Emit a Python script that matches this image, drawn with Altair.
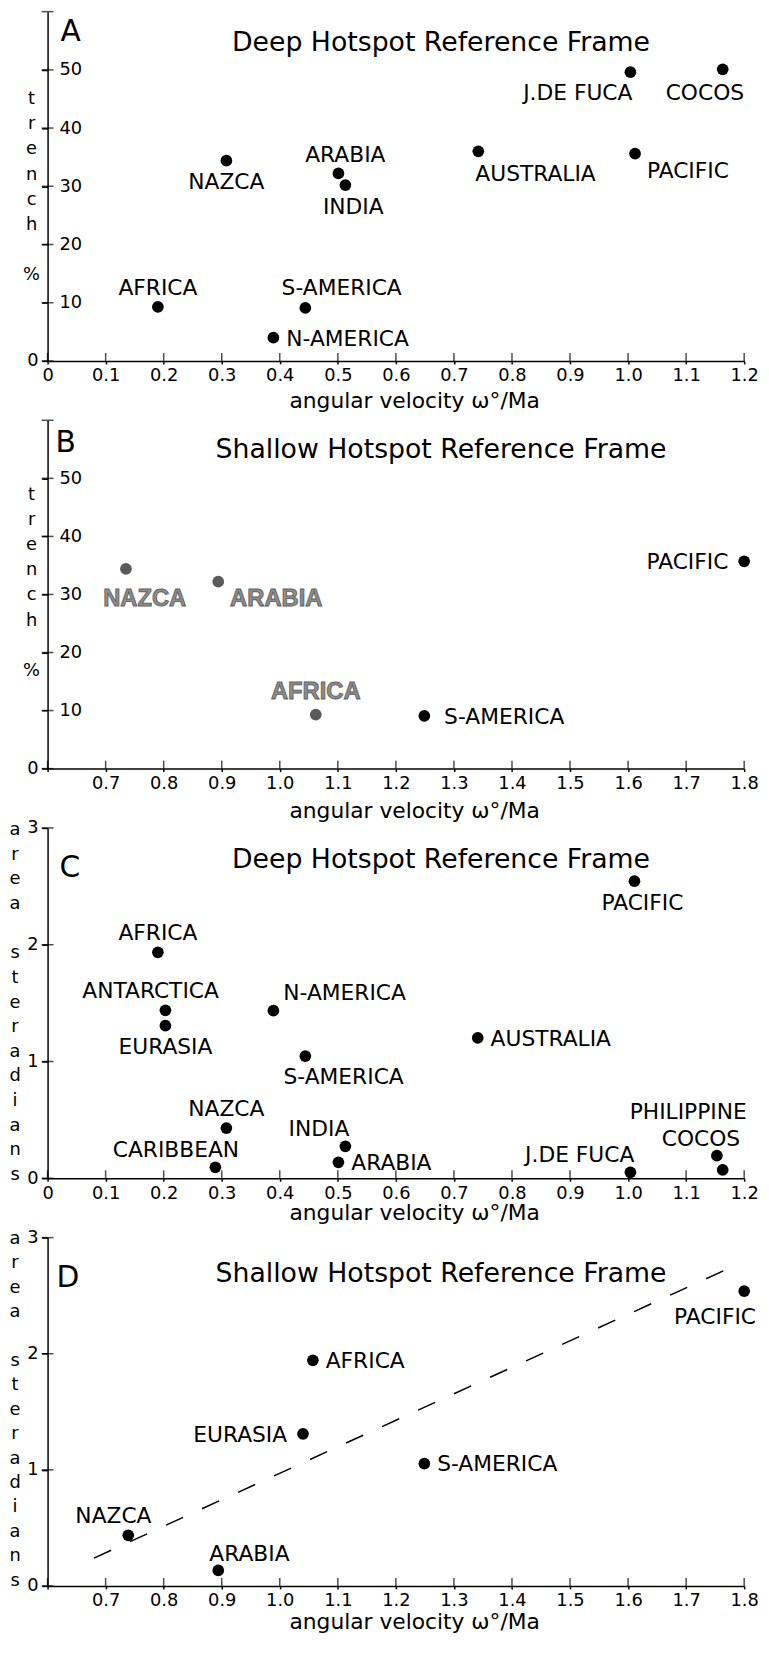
import altair as alt
import pandas as pd

FONT = "DejaVu Sans"
INK = "#000000"
BLANK = "\u200b"

# ---------------- data ----------------
# A: deep hotspot reference frame, trench %
a_plates = ["AFRICA", "NAZCA", "ARABIA", "INDIA", "S-AMERICA", "N-AMERICA",
            "AUSTRALIA", "J.DE FUCA", "COCOS", "PACIFIC"]
a_omega = [0.19, 0.308, 0.501, 0.513, 0.444, 0.389, 0.742, 1.004, 1.163, 1.012]
a_trench = [9.3, 34.4, 32.2, 30.2, 9.1, 4.0, 36.0, 49.6, 50.1, 35.6]
a_place = ["N", "S", "N>", "S>", "NE", "E", "SE0", "SW", "S<", "ESE"]

# B: shallow hotspot reference frame, trench %
b_plates = ["NAZCA", "ARABIA", "AFRICA", "S-AMERICA", "PACIFIC"]
b_omega = [0.735, 0.894, 1.062, 1.249, 1.80]
b_trench = [34.4, 32.2, 9.3, 9.1, 35.7]
b_place = ["SEg", "ESE", "Ng", "E+", "W"]
b_gray_plates = ["NAZCA", "ARABIA", "AFRICA"]

# C: deep hotspot reference frame, area (steradians)
c_plates = ["AFRICA", "ANTARCTICA", "EURASIA", "N-AMERICA", "S-AMERICA", "NAZCA",
            "CARIBBEAN", "INDIA", "ARABIA", "PACIFIC", "AUSTRALIA", "J.DE FUCA",
            "PHILIPPINE", "COCOS"]
c_omega = [0.19, 0.203, 0.203, 0.389, 0.444, 0.308, 0.289, 0.513, 0.501, 1.011,
           0.741, 1.004, 1.153, 1.163]
c_area = [1.935, 1.438, 1.307, 1.435, 1.046, 0.43, 0.094, 0.273, 0.136, 2.544,
          1.202, 0.051, 0.193, 0.071]
c_place = ["N", "N<", "S", "NE+", "SE", "N", "NW+", "NW", "E", "S>", "E", "NW",
           "N2", "N1"]

# D: shallow hotspot reference frame, area (steradians)
d_plates = ["AFRICA", "EURASIA", "NAZCA", "ARABIA", "S-AMERICA", "PACIFIC"]
d_omega = [1.057, 1.040, 0.739, 0.894, 1.249, 1.80]
d_area = [1.943, 1.31, 0.436, 0.133, 1.054, 2.54]
d_place = ["E", "W", "N<", "NE0", "E", "SW+"]

# dashed fit line in D (end points)
d_fit_omega = [0.68, 1.78]
d_fit_area = [0.24, 2.75]

# axis ticks
x_ticks_deep = [0.0, 0.1, 0.2, 0.3, 0.4, 0.5, 0.6, 0.7, 0.8, 0.9, 1.0, 1.1, 1.2]
x_ticks_shallow = [0.6, 0.7, 0.8, 0.9, 1.0, 1.1, 1.2, 1.3, 1.4, 1.5, 1.6, 1.7, 1.8]
y_ticks_trench = [0, 10, 20, 30, 40, 50, 60]
y_labels_trench = [0, 10, 20, 30, 40, 50]
y_ticks_area = [0, 1, 2, 3]

X_TITLE = "angular velocity ω°/Ma"
TRENCH_TITLE = ["t", "r", "e", "n", "c", "h", BLANK, "%"]
AREA_TITLE = ["a", "r", "e", "a", BLANK, "s", "t", "e", "r", "a", "d", "i", "a", "n", "s"]

PLOT_W = 704

# label placement vocabulary: align, dx, dy (alphabetic baseline)
PLACE = {
    "N": ("center", 0, -12), "N>": ("center", 7, -12), "N<": ("center", -15, -12),
    "S": ("center", 0, 29), "S>": ("center", 8, 29), "S<": ("center", -18, 31),
    "E": ("left", 13, 8), "E+": ("left", 20, 8), "W": ("right", -16, 8),
    "NE": ("left", -24, -13), "NE0": ("left", -9, -10), "NE+": ("left", 10, -11),
    "SE": ("left", -22, 28), "SE0": ("left", -3, 30),
    "NW": ("right", 4, -10), "NW+": ("right", 24, -10),
    "SW": ("right", 2, 28), "SW+": ("right", 12, 33),
    "ESE": ("left", 12, 25),
    "N1": ("center", -22, -24), "N2": ("center", -29, -37),
    "SEg": ("left", -23, 37), "Ng": ("center", 0, -16),
}


def sc(dom):
    return alt.Scale(domain=dom, nice=False, zero=False)


def x_axis(ticks):
    if ticks[0] == 0:
        expr = "datum.value == 0 ? '0' : format(datum.value, '.1f')"
    else:
        expr = "datum.value < %s ? '' : format(datum.value, '.1f')" % (ticks[0] + 0.05)
    return alt.Axis(
        values=ticks, labelExpr=expr, labelFont=FONT, labelFontSize=18,
        labelColor=INK, labelPadding=3, labelFlush=False, labelOverlap=False,
        tickSize=3, tickWidth=1.5, tickColor=INK, domainColor=INK, domainWidth=1.5,
        grid=False, title=None,
    )


def y_axis(kind, labels, title_y, lh):
    common = dict(
        values=labels, labelFont=FONT, labelFontSize=18, labelColor=INK,
        labelFlush=False, labelOverlap=False, labelBaseline="middle",
        tickSize=6, tickWidth=1.5, tickColor=INK, domainColor=INK, domainWidth=1.5,
        grid=False, titleAngle=0, titleFont=FONT, titleFontSize=18,
        titleFontWeight="normal", titleColor=INK, titleAlign="center",
        titleBaseline="alphabetic", titleY=title_y, titleLineHeight=lh,
    )
    if kind == "trench":
        # labels sit inside the frame, to the right of the axis line
        return alt.Axis(
            labelExpr="datum.value == 0 ? '' : datum.label",
            labelAlign="left", labelPadding=-17.5,
            title=TRENCH_TITLE, titleX=-16.7, **common)
    return alt.Axis(labelPadding=3.5, title=AREA_TITLE, titleX=-33.4, **common)


def panel(plates, omega, vals, place, xdom, xticks, ydom, yticks, ylabels, kind,
          ytitle_y, ylh, xtitle_y, letter, letter_x, letter_y, title, title_y,
          height, gray=None, fit=None):
    gray = gray or []
    df = pd.DataFrame({"plate": plates, "omega": omega, "val": vals, "place": place})
    df["faded"] = df["plate"].isin(gray)

    xax = x_axis(xticks)
    yax = y_axis(kind, ylabels, ytitle_y, ylh)

    def X():
        return alt.X("omega:Q", scale=sc(xdom), axis=xax)

    def Y():
        return alt.Y("val:Q", scale=sc(ydom), axis=yax)

    layers = []
    pts = alt.Chart(df).mark_circle(size=140, opacity=1).encode(
        x=X(), y=Y(),
        color=alt.condition("datum.faded", alt.value("#5a5a5a"), alt.value(INK)),
    )
    layers.append(pts)

    # crossing ticks on both axes
    xt = pd.DataFrame({"omega": xticks, "val": [ydom[0]] * len(xticks)})
    layers.append(alt.Chart(xt).mark_tick(orient="vertical", size=8, thickness=1.5,
                                          yOffset=-4, color=INK).encode(x=X(), y=Y()))
    yt = pd.DataFrame({"omega": [xdom[0]] * len(yticks), "val": yticks})
    layers.append(alt.Chart(yt).mark_tick(orient="horizontal", size=12, thickness=1.5,
                                          color=INK).encode(x=X(), y=Y()))

    if kind == "trench":
        # the zero label of the y axis stays outside, left of the axis line
        zt = pd.DataFrame({"omega": [xdom[0]], "val": [yticks[0]],
                           "lbl": [str(yticks[0])]})
        layers.append(alt.Chart(zt).mark_text(
            align="right", baseline="middle", dx=-9, font=FONT, fontSize=18, color=INK
        ).encode(x=X(), y=Y(), text="lbl:N"))

    if fit is not None:
        fdf = pd.DataFrame({"omega": fit[0], "val": fit[1]})
        layers.append(alt.Chart(fdf).mark_line(color=INK, strokeWidth=1.5,
                                               strokeDash=[19, 21]).encode(x=X(), y=Y()))

    for code in dict.fromkeys(place):
        align, dx, dy = PLACE[code]
        for faded in (False, True):
            sub = df[(df["place"] == code) & (df["faded"] == faded)]
            if sub.empty:
                continue
            if faded:
                mk = alt.Chart(sub).mark_text(
                    align=align, baseline="alphabetic", dx=dx, dy=dy,
                    font="Liberation Sans", fontWeight="bold", fontSize=24,
                    fill="#8e8e8e", stroke="#606060", strokeWidth=0.9)
            else:
                mk = alt.Chart(sub).mark_text(
                    align=align, baseline="alphabetic", dx=dx, dy=dy,
                    font=FONT, fontSize=22, color=INK)
            layers.append(mk.encode(x=X(), y=Y(), text="plate:N"))

    ann = pd.DataFrame({"letter": [letter], "title": [title], "xtitle": [X_TITLE]})
    layers.append(alt.Chart(ann).mark_text(
        align="left", baseline="alphabetic", font=FONT, fontSize=30, color=INK
    ).encode(x=alt.value(letter_x), y=alt.value(letter_y), text="letter:N"))
    layers.append(alt.Chart(ann).mark_text(
        align="center", baseline="alphabetic", font=FONT, fontSize=27, color=INK
    ).encode(x=alt.value(397.6), y=alt.value(title_y), text="title:N"))
    # x-axis title below the axis labels
    layers.append(alt.Chart(ann).mark_text(
        align="center", baseline="alphabetic", font=FONT, fontSize=22, color=INK
    ).encode(x=alt.value(371), y=alt.value(height + xtitle_y), text="xtitle:N"))

    return alt.layer(*layers).properties(width=PLOT_W, height=height)


pa = panel(a_plates, a_omega, a_trench, a_place, [0, 1.2], x_ticks_deep, [0, 60],
           y_ticks_trench, y_labels_trench, "trench", 93, 25.4, 48, "A", 13, 30,
           "Deep Hotspot Reference Frame", 40, 353)
pb = panel(b_plates, b_omega, b_trench, b_place, [0.6, 1.8], x_ticks_shallow, [0, 60],
           y_ticks_trench, y_labels_trench, "trench", 80, 25.4, 50, "B", 8, 32,
           "Shallow Hotspot Reference Frame", 38.5, 352, gray=b_gray_plates)
pc = panel(c_plates, c_omega, c_area, c_place, [0, 1.2], x_ticks_deep, [0, 3],
           y_ticks_area, y_ticks_area, "area", 6.7, 24.9, 42, "C", 12, 49.5,
           "Deep Hotspot Reference Frame", 40, 354)
pd_ = panel(d_plates, d_omega, d_area, d_place, [0.6, 1.8], x_ticks_shallow, [0, 3],
            y_ticks_area, y_ticks_area, "area", 6, 24.65, 44, "D", 9, 49.5,
            "Shallow Hotspot Reference Frame", 44.5, 352, fit=(d_fit_omega, d_fit_area))

chart = alt.vconcat(pa, pb, pc, pd_, spacing=60, bounds="flush").properties(
    padding={"left": 0, "top": -6, "right": 2, "bottom": 0}
).configure_view(strokeWidth=0)

chart.save("out.html", embed_options={"renderer": "svg", "actions": False})
